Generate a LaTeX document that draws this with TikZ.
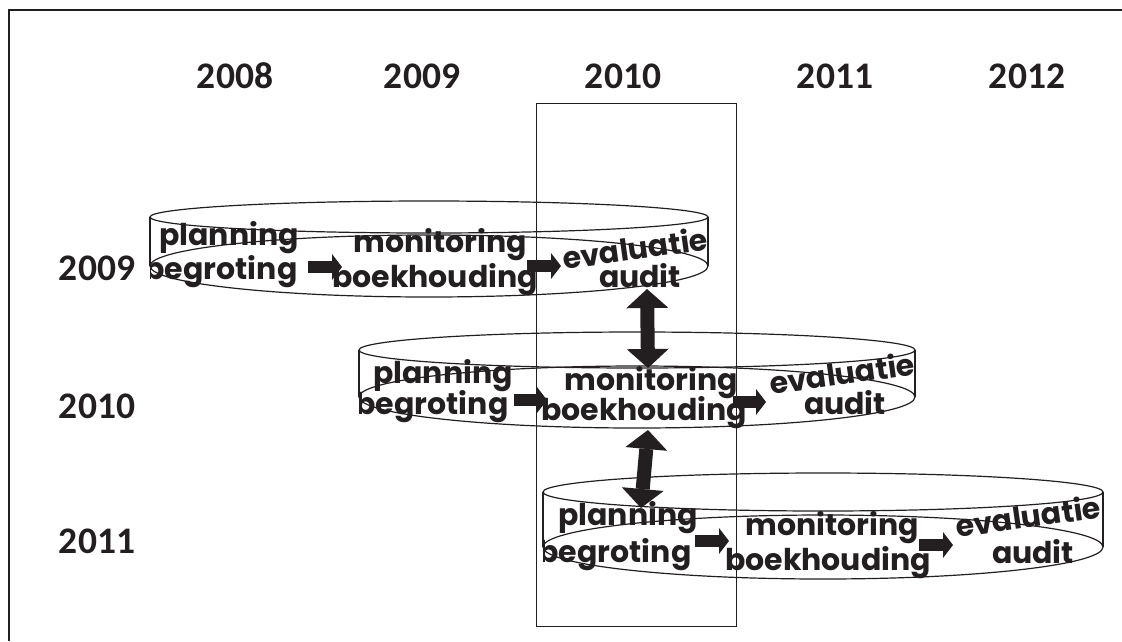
\documentclass[tikz,border=0pt]{standalone}
\usepackage{fontspec}
\setmainfont{Carlito}
\newfontfamily\ringfont{Poppins}
\usetikzlibrary{arrows.meta}
\definecolor{ink}{RGB}{35,31,32}
\begin{document}
\begin{tikzpicture}[x=1pt,y=-1pt,
  year/.style={font=\bfseries\fontsize{37.5}{40}\selectfont, text=ink, inner sep=0pt},
  ringtext/.style={font=\ringfont\bfseries\fontsize{30}{32}\selectfont, text=ink, inner sep=0pt},
  ringline/.style={draw=ink, line width=1.2pt},
  stepflow/.style={draw=ink, line width=12pt,
    -{Triangle[width=26pt,length=10pt,line width=0pt]}},
  linkflow/.style={draw=ink, line width=14pt,
    {Triangle[width=42pt,length=19pt,line width=0pt]}-{Triangle[width=42pt,length=19pt,line width=0pt]}},
  ]
\useasboundingbox (0,0) rectangle (1122,641);

% outer frame (left and top edges only)
\draw[ink, line width=2pt] (9,641) -- (9,9.5) -- (1122,9.5);

% column headings
\node[year] (c2008) at (235,76) {2008};
\node[year] (c2009) at (422,76) {2009};
\node[year] (c2010) at (623,76) {2010};
\node[year] (c2011) at (835,76) {2011};
\node[year] (c2012) at (1027,76) {2012};

% row headings
\node[year] (r2009) at (97,268) {2009};
\node[year] (r2010) at (97,406) {2010};
\node[year] (r2011) at (97,541) {2011};

% ring 2009
\draw[ringline] (429,217) ellipse [x radius=279, y radius=16];
\draw[ringline] (429,266) ellipse [x radius=279, y radius=31];
\draw[ringline] (150,217) -- (150,266);
\draw[ringline] (708,217) -- (708,266);

% ring 2010
\draw[ringline] (637,350) ellipse [x radius=278, y radius=18];
\draw[ringline] (637,397) ellipse [x radius=278, y radius=31];
\draw[ringline] (359,350) -- (359,397);
\draw[ringline] (915,350) -- (915,397);

% ring 2011
\draw[ringline] (823,492) ellipse [x radius=280, y radius=19];
\draw[ringline] (823,547) ellipse [x radius=280, y radius=32];
\draw[ringline] (543,492) -- (543,547);
\draw[ringline] (1103,492) -- (1103,547);

% texts of ring 2009
\node[ringtext] (aPlan) at (229,238) {planning};
\begin{scope}
  \clip (150,250) rectangle (320,300);
  \node[ringtext] (aBegr) at (221,272) {begroting};
\end{scope}
\node[ringtext] (aMon)  at (440,245) {monitoring};
\node[ringtext] (aBoek) at (435,280) {boekhouding};
\node[ringtext, rotate=8] (aEval) at (635,248) {evaluatie};
\node[ringtext] (aAud)  at (640,276) {audit};

% texts of ring 2010
\node[ringtext] (bPlan) at (443,376) {planning};
\begin{scope}
  \clip (359,385) rectangle (530,430);
  \node[ringtext] (bBegr) at (432,407) {begroting};
\end{scope}
\node[ringtext] (bMon)  at (651,383) {monitoring};
\node[ringtext] (bBoek) at (644,413) {boekhouding};
\node[ringtext, rotate=8] (bEval) at (842,373) {evaluatie};
\node[ringtext] (bAud)  at (845,403) {audit};

% texts of ring 2011
\node[ringtext] (cPlan) at (628,518) {planning};
\begin{scope}
  \clip (543,530) rectangle (720,580);
  \node[ringtext] (cBegr) at (615,555) {begroting};
\end{scope}
\node[ringtext] (cMon)  at (832,528) {monitoring};
\node[ringtext] (cBoek) at (828,563) {boekhouding};
\node[ringtext, rotate=8] (cEval) at (1028,516) {evaluatie};
\node[ringtext] (cAud)  at (1033,552) {audit};

% highlighted year column
\draw[ink, line width=1pt] (536,103) rectangle (736,626);

% step arrows inside the rings
\coordinate (aS1) at (308,267); \coordinate (aE1) at (342,267);
\coordinate (aS2) at (527,266); \coordinate (aE2) at (561,266);
\coordinate (bS1) at (514,400); \coordinate (bE1) at (547,400);
\coordinate (bS2) at (733,402); \coordinate (bE2) at (766,402);
\coordinate (cS1) at (695,541); \coordinate (cE1) at (729,541);
\coordinate (cS2) at (919,545); \coordinate (cE2) at (953,545);
\draw[stepflow] (aS1) -- (aE1);
\draw[stepflow] (aS2) -- (aE2);
\draw[stepflow] (bS1) -- (bE1);
\draw[stepflow] (bS2) -- (bE2);
\draw[stepflow] (cS1) -- (cE1);
\draw[stepflow] (cS2) -- (cE2);

% links between successive rings
\coordinate (l1top) at (647,289); \coordinate (l1bot) at (648,368);
\coordinate (l2top) at (648,430); \coordinate (l2bot) at (641,508);
\draw[linkflow] (l1top) -- (l1bot);
\draw[linkflow] (l2top) -- (l2bot);
\end{tikzpicture}
\end{document}
